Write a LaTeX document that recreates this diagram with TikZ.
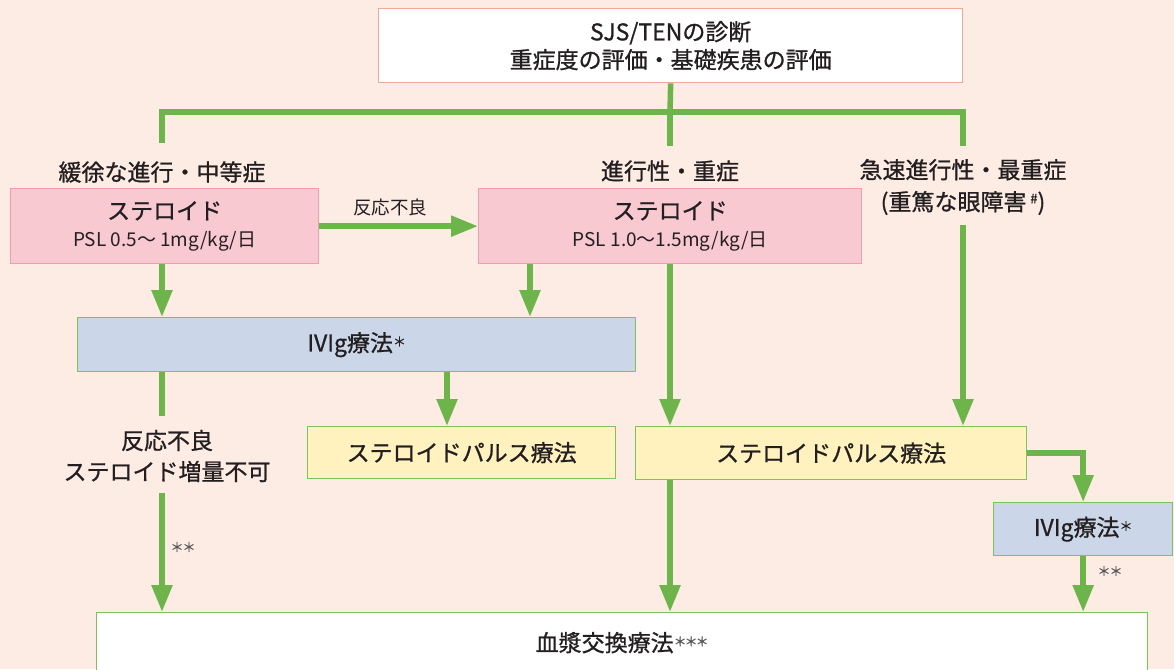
\documentclass[tikz,border=0pt]{standalone}
\usepackage{fontspec}
\setmainfont{Noto Sans CJK JP}
\newfontfamily\medfont{Noto Sans CJK JP}[FakeBold=0.9]
\newfontfamily\starfont{Noto Sans CJK JP}[FakeBold=0.6]
\usetikzlibrary{arrows.meta}
\definecolor{bg}{HTML}{FDECE4}
\definecolor{grn}{HTML}{6DB54A}
\definecolor{pinkfill}{HTML}{F9C9D2}
\definecolor{pinkline}{HTML}{F39BB0}
\definecolor{bluefill}{HTML}{CBD6E8}
\definecolor{yelfill}{HTML}{FFF2BF}
\definecolor{boxline}{HTML}{7DC35C}
\definecolor{topline}{HTML}{F4A697}
\definecolor{txt}{HTML}{231F20}
\definecolor{startxt}{HTML}{555555}
% one raised star after a box title
\newcommand{\mystar}[1]{\raisebox{5pt}{\starfont\fontsize{13}{13}\selectfont\color{#1}＊}}
\tikzset{
  conn/.style={draw=grn, line width=5.5pt},
  arr/.style={conn, -{Triangle[length=27pt,width=20pt]}},
  bx/.style={anchor=north west, inner sep=0pt, line width=1.3pt, align=center, text=txt},
  bigtxt/.style={font=\medfont\fontsize{23}{28}\selectfont},
  lbl/.style={inner sep=0pt, align=center, text=txt, bigtxt},
  startag/.style={inner sep=0pt, text=startxt, font=\starfont\fontsize{13}{13}\selectfont},
  pinkbox/.style={bx, fill=pinkfill, draw=pinkline},
  bluebox/.style={bx, fill=bluefill, draw=boxline, bigtxt},
  yelbox/.style={bx, fill=yelfill, draw=boxline, bigtxt},
}
\begin{document}
\begin{tikzpicture}[x=1pt,y=-1pt]
\useasboundingbox (0,0) rectangle (1174,669);
\fill[bg] (0,0) rectangle (1174,669);

% boxes
\node[bx, fill=white, draw=topline, bigtxt, minimum width=584pt, minimum height=74pt] (top) at (378,8)
  {SJS/TENの診断\\重症度の評価・基礎疾患の評価};

\node[lbl] (lab1) at (162,172) {緩徐な進行・中等症};
\node[lbl] (lab2) at (670,171) {進行性・重症};
\node[lbl, font=\medfont\fontsize{23}{32}\selectfont] (lab3) at (963,187)
  {急速進行性・最重症\\(重篤な眼障害\,{\fontsize{13}{13}\selectfont\raisebox{0.55em}{\#}})};

\node[pinkbox, minimum width=308pt, minimum height=75pt, font=\fontsize{19}{28}\selectfont] (pink1) at (10,188)
  {{\medfont\fontsize{23}{28}\selectfont ステロイド}\\[-1pt]PSL 0.5～ 1mg/kg/日};
\node[pinkbox, minimum width=383pt, minimum height=75pt, font=\fontsize{19}{28}\selectfont] (pink2) at (478,188)
  {{\medfont\fontsize{23}{28}\selectfont ステロイド}\\[-1pt]PSL 1.0～1.5mg/kg/日};

\node[bluebox, minimum width=558pt, minimum height=54pt] (ivig) at (77,317)
  {IVIg療法\mystar{txt}};

\node[lbl, font=\medfont\fontsize{23}{31}\selectfont] (lab4) at (167,456)
  {反応不良\\ステロイド増量不可};

\node[yelbox, minimum width=308pt, minimum height=52pt] (y1) at (307,426)
  {ステロイドパルス療法};
\node[yelbox, minimum width=391pt, minimum height=53pt] (y2) at (635,426)
  {ステロイドパルス療法};
\node[bluebox, minimum width=179pt, minimum height=53pt] (ivig2) at (993,502)
  {IVIg療法\mystar{txt}};

\node[bx, fill=white, draw=boxline, bigtxt, minimum width=1051pt, minimum height=60pt] (blood) at (96,612)
  {血漿交換療法\mystar{startxt}\kern-2pt\mystar{startxt}\kern-2pt\mystar{startxt}};

% helper coordinates
\coordinate (hub) at (670,112);
\coordinate (d1) at (162,143);
\coordinate (d2) at (670,146);
\coordinate (d3) at (963,146);
\coordinate (r1) at (963,225);
\coordinate (xa) at (530,0);
\coordinate (xb) at (447,0);
\coordinate (xc) at (162,0);

% connectors
\draw[conn] (top.south) -- (hub);
\draw[conn] (d1) |- (hub) -| (d3);
\draw[conn] (hub) -- (d2);

\draw[arr] (pink1.east) -- (pink2.west);
\node[inner sep=0pt, text=txt, font=\fontsize{18.5}{22}\selectfont] (lab5) at (390,207) {反応不良};
\draw[arr] (pink1.south -| xc) -- (ivig.north -| xc);
\draw[arr] (pink2.south -| xa) -- (ivig.north -| xa);
\draw[arr] (pink2.south -| hub) -- (y2.north -| hub);
\draw[arr] (r1) -- (y2.north -| r1);

\draw[arr] (ivig.south -| xb) -- (y1.north -| xb);
\draw[conn, shorten >=14pt] (ivig.south -| xc) -- (lab4.north -| xc);
\draw[arr, shorten <=11pt] (lab4.south -| xc) -- (blood.north -| xc);
\node[startag] (st1) at (183,547) {＊\kern-1pt＊};

\draw[arr] (y2.south -| hub) -- (blood.north -| hub);
\draw[arr] (y2.east) -| (ivig2.north);
\draw[arr] (ivig2.south) -- (ivig2.south |- blood.north);
\node[startag] (st2) at (1110,571) {＊\kern-1pt＊};
\end{tikzpicture}
\end{document}
